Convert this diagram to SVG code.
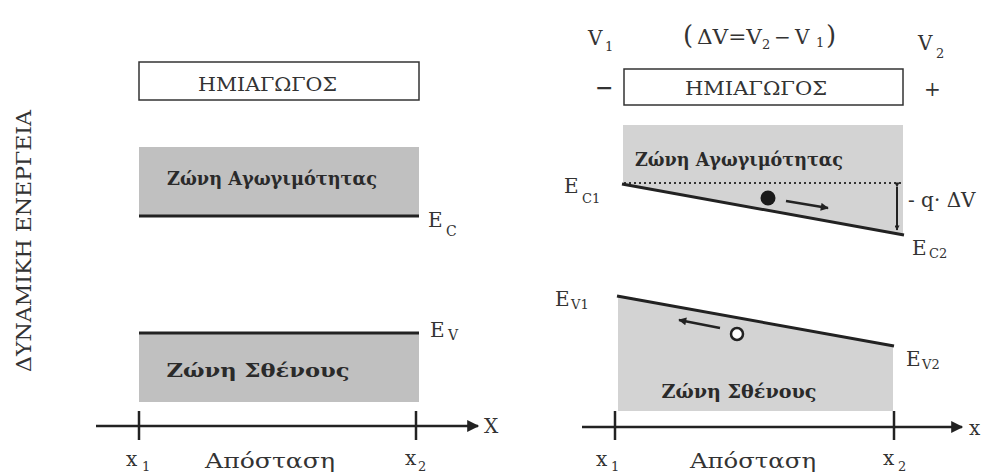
<svg xmlns="http://www.w3.org/2000/svg" width="993" height="474" viewBox="0 0 993 474" font-family="'DejaVu Serif', 'Liberation Serif', serif">
<defs>
<style>
text{fill:#333;}
.b{font-weight:bold;fill:#2a2a2a;}
.box{fill:#fff;stroke:#333;stroke-width:1.5;}
.edge{stroke:#222;stroke-width:3;fill:none;}
.ax{stroke:#222;stroke-width:2.5;fill:none;}
.tick{stroke:#222;stroke-width:2.5;}
</style>
<marker id="ah" viewBox="0 0 10 10" refX="9" refY="5" markerWidth="7" markerHeight="5" orient="auto" markerUnits="userSpaceOnUse">
<path d="M0,0 L10,5 L0,10 z" fill="#222"/>
</marker>
<marker id="axh" viewBox="0 0 10 10" refX="9" refY="5" markerWidth="20" markerHeight="12" orient="auto" markerUnits="userSpaceOnUse">
<path d="M0,0 L10,5 L0,10 z" fill="#222"/>
</marker>
<marker id="sh" viewBox="0 0 10 10" refX="9" refY="5" markerWidth="14" markerHeight="8" orient="auto" markerUnits="userSpaceOnUse">
<path d="M0,0 L10,5 L0,10 z" fill="#222"/>
</marker>
</defs>
<rect width="993" height="474" fill="#fff"/>

<text id="ylabel" transform="translate(31,241) rotate(-90)" text-anchor="middle" font-size="21" textLength="262" lengthAdjust="spacingAndGlyphs">ΔΥΝΑΜΙΚΗ ΕΝΕΡΓΕΙΑ</text>

<!-- Left panel -->
<g id="semi-left">
<rect class="box" x="139" y="62" width="280" height="38"/>
<text x="267.5" y="91" text-anchor="middle" font-size="18" textLength="139" lengthAdjust="spacingAndGlyphs">ΗΜΙΑΓΩΓΟΣ</text>
</g>
<g id="cb-left">
<rect x="139" y="147" width="280" height="69" fill="#c0c0c0"/>
<line class="edge" x1="139" y1="216" x2="419" y2="216"/>
<text class="b" x="272" y="185" text-anchor="middle" font-size="19" textLength="210" lengthAdjust="spacingAndGlyphs">Ζώνη Αγωγιμότητας</text>
<text x="428" y="227" font-size="20">E</text>
<text x="446" y="236" font-size="14">C</text>
</g>
<g id="vb-left">
<rect x="139" y="333" width="280" height="69" fill="#c0c0c0"/>
<line class="edge" x1="139" y1="333" x2="419" y2="333"/>
<text class="b" x="258" y="377" text-anchor="middle" font-size="19" textLength="183" lengthAdjust="spacingAndGlyphs">Ζώνη Σθένους</text>
<text x="430" y="337" font-size="20">E</text>
<text x="448" y="340" font-size="14">V</text>
</g>
<g id="axis-left">
<line class="ax" x1="96" y1="426" x2="478" y2="426" marker-end="url(#axh)"/>
<line class="tick" x1="139" y1="411" x2="139" y2="440"/>
<line class="tick" x1="416" y1="411" x2="416" y2="440"/>
<text x="484" y="433" font-size="20">X</text>
<text x="126" y="466" font-size="20">x</text>
<text x="142" y="471" font-size="13">1</text>
<text x="270" y="468" text-anchor="middle" font-size="20" textLength="130" lengthAdjust="spacingAndGlyphs">Απόσταση</text>
<text x="405" y="465" font-size="20">x</text>
<text x="418" y="471" font-size="13">2</text>
</g>

<!-- Right panel -->
<g id="voltages">
<text x="588" y="45" font-size="20">V</text>
<text x="605" y="51" font-size="13">1</text>
<text y="44" font-size="20"><tspan x="683" font-size="26">(</tspan><tspan x="697" textLength="65" lengthAdjust="spacingAndGlyphs">ΔV=V</tspan><tspan x="762" y="49" font-size="13">2</tspan><tspan x="774" y="44">−</tspan><tspan x="795">V</tspan><tspan x="816" y="47" font-size="13">1</tspan><tspan x="826" y="44" font-size="26">)</tspan></text>
<text x="918" y="50" font-size="20">V</text>
<text x="936" y="58" font-size="13">2</text>
</g>
<g id="semi-right">
<rect class="box" x="624" y="69" width="279" height="36"/>
<text x="756" y="95" text-anchor="middle" font-size="18" textLength="142" lengthAdjust="spacingAndGlyphs">ΗΜΙΑΓΩΓΟΣ</text>
<text x="595" y="95" font-size="22" font-weight="bold">−</text>
<text x="924" y="96" font-size="20">+</text>
</g>
<g id="cb-right">
<polygon points="623,125 903,125 903,235 623,185" fill="#d3d3d3"/>
<line x1="624" y1="183" x2="903" y2="183" stroke="#333" stroke-width="2" stroke-dasharray="2 3"/>
<line class="edge" x1="622" y1="184" x2="904" y2="235"/>
<text class="b" x="635" y="166" font-size="19" textLength="208" lengthAdjust="spacingAndGlyphs">Ζώνη Αγωγιμότητας</text>
<text x="564" y="193" font-size="20">E</text>
<text x="582" y="203" font-size="13">C1</text>
<circle cx="768" cy="198" r="7.5" fill="#1a1a1a"/>
<line x1="786" y1="201" x2="828" y2="208" stroke="#222" stroke-width="2.5" marker-end="url(#sh)"/>
<line x1="897" y1="187" x2="897" y2="230" stroke="#222" stroke-width="2" marker-start="url(#ah)" marker-end="url(#ah)"/>
<text x="908" y="207" font-size="20">- q· ΔV</text>
<text x="912" y="255" font-size="20">E</text>
<text x="929" y="258" font-size="13">C2</text>
</g>
<g id="vb-right">
<polygon points="618,296 893,346 893,411 618,411" fill="#d3d3d3"/>
<line class="edge" x1="617" y1="296" x2="894" y2="346"/>
<text class="b" x="739" y="398" text-anchor="middle" font-size="19" textLength="155" lengthAdjust="spacingAndGlyphs">Ζώνη Σθένους</text>
<text x="555" y="306" font-size="20">E</text>
<text x="571" y="309" font-size="13">V1</text>
<circle cx="737" cy="334" r="6" fill="#fff" stroke="#222" stroke-width="2.5"/>
<line x1="720" y1="328" x2="679" y2="320" stroke="#222" stroke-width="2.5" marker-end="url(#sh)"/>
<text x="906" y="366" font-size="20">E</text>
<text x="922" y="369" font-size="13">V2</text>
</g>
<g id="axis-right">
<line class="ax" x1="582" y1="427" x2="962" y2="427" marker-end="url(#axh)"/>
<line class="tick" x1="615" y1="411" x2="615" y2="440"/>
<line class="tick" x1="894" y1="411" x2="894" y2="440"/>
<text x="969" y="435" font-size="20">x</text>
<text x="596" y="466" font-size="20">x</text>
<text x="611" y="471" font-size="13">1</text>
<text x="753" y="468" text-anchor="middle" font-size="20" textLength="126" lengthAdjust="spacingAndGlyphs">Απόσταση</text>
<text x="883" y="465" font-size="20">x</text>
<text x="898" y="471" font-size="13">2</text>
</g>
</svg>
